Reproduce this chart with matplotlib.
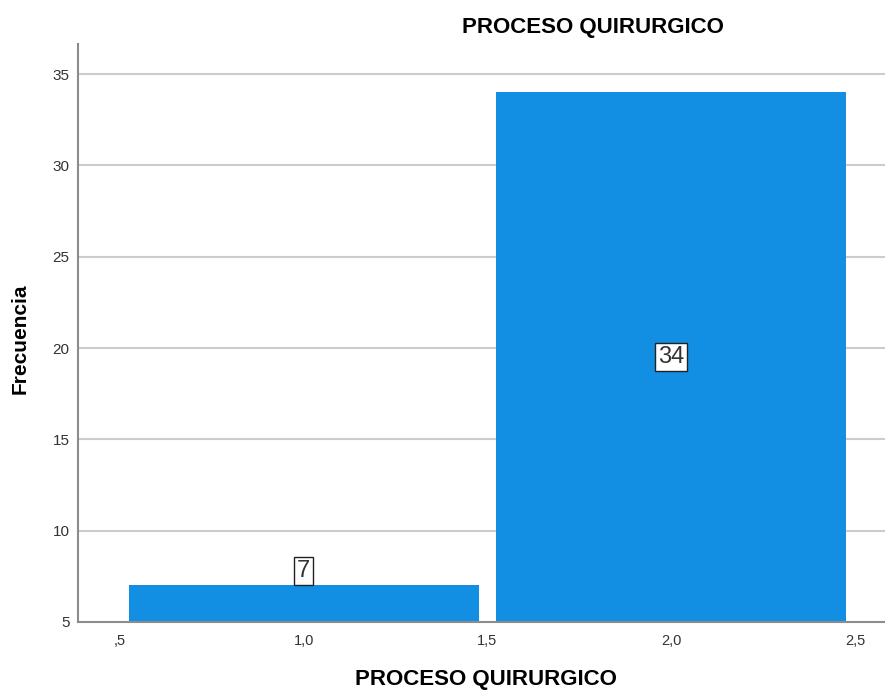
import matplotlib
matplotlib.use('Agg')
import matplotlib.pyplot as plt

# datos
categorias = [1.0, 2.0]
frecuencias = [7, 34]
etiquetas = ['7', '34']
yticks = [5, 10, 15, 20, 25, 30, 35]
xticks = [0.5, 1.0, 1.5, 2.0, 2.5]
xtick_labels = [',5', '1,0', '1,5', '2,0', '2,5']

plt.rcParams['font.family'] = ['Liberation Sans', 'DejaVu Sans']

fig = plt.figure(figsize=(8.85, 6.91), dpi=100)
ax = fig.add_axes([0.0881, 0.0999, 0.9119, 0.8364])

base = 5
alturas = [f - base for f in frecuencias]
bars = ax.bar(categorias, alturas, width=0.952, bottom=base, color='#128fe3', zorder=2)

ax.set_xlim(0.3857, 2.5817)
ax.set_ylim(5, 36.65)
ax.set_yticks(yticks)
ax.set_xticks(xticks)
ax.set_xticklabels(xtick_labels)
ax.tick_params(length=0, labelsize=10.5, colors='#333333')
ax.tick_params(axis='x', pad=9)
ax.tick_params(axis='y', pad=6, labelsize=11)

for y in yticks[1:]:
    ax.axhline(y, color='#cccccc', lw=1.5, zorder=1)

for s in ['top', 'right']:
    ax.spines[s].set_visible(False)
for s in ['left', 'bottom']:
    ax.spines[s].set_color('#8c8c8c')
    ax.spines[s].set_linewidth(1.5)

# etiquetas de valor
box = dict(boxstyle='square,pad=0.12', facecolor='white', edgecolor='#222222', lw=1)
ax.text(categorias[0], frecuencias[0] + 0.8, etiquetas[0], ha='center', va='center',
        fontsize=17, color='#333333', bbox=box, zorder=3)
ax.text(categorias[1], (base + frecuencias[1]) / 2, etiquetas[1], ha='center', va='center',
        fontsize=17, color='#333333', bbox=box, zorder=3)

ax.set_xlabel('PROCESO QUIRURGICO', fontsize=16, fontweight='bold')
ax.xaxis.set_label_coords(0.5056, -0.100)
ax.xaxis.label.set_va('center')
ax.set_ylabel('Frecuencia', fontsize=15, fontweight='bold')
ax.yaxis.set_label_coords(-0.072, 0.49)
ax.yaxis.label.set_va('center')
fig.text(593 / 885, 1 - 28 / 691, 'PROCESO QUIRURGICO', ha='center', va='center',
         fontsize=16, fontweight='bold')

fig.savefig('out.png', dpi=100)
